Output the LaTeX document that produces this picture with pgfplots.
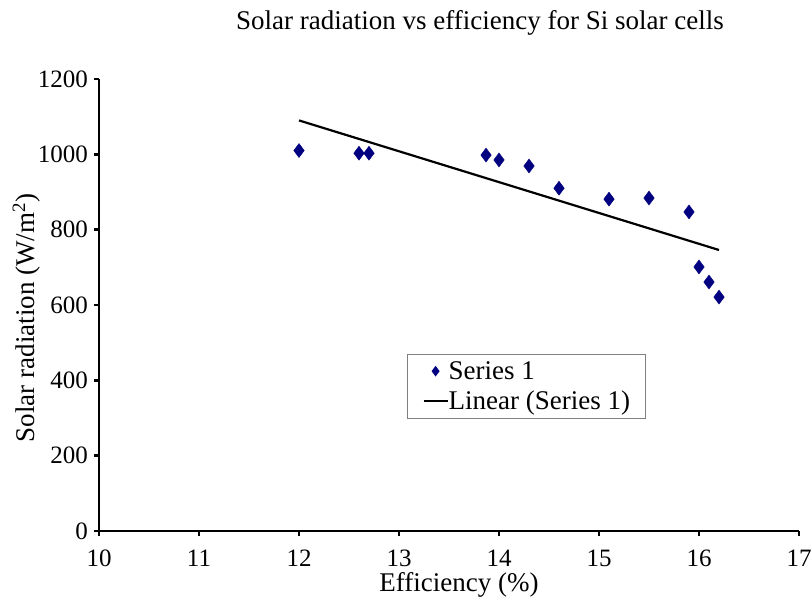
\documentclass[border=0pt]{standalone}
\usepackage{fontspec}
\setmainfont{Liberation Serif}
\usepackage{pgfplots}
\pgfplotsset{compat=1.18}
\definecolor{navy}{RGB}{0,0,128}
\newcommand{\tickf}{\fontsize{25bp}{30bp}\selectfont}
\newcommand{\legf}{\fontsize{27bp}{32bp}\selectfont}
\pgfplotsset{
  marklegend/.style={legend image code/.code={\path[draw=none] (0bp,0bp) -- (24bp,0bp); \draw[navy, fill=navy, mark=diamond*, mark size=4.5bp, only marks] plot coordinates {(12bp,0bp)};}},
  linelegend/.style={legend image code/.code={\draw[black, line width=2.2bp] (0bp,0bp) -- (24bp,0bp);}},
}
\begin{document}
\begin{tikzpicture}[x=1bp,y=1bp]
\path[use as bounding box] (0,0) rectangle (812,605);
\begin{axis}[
  at={(99bp,74bp)}, anchor=south west,
  scale only axis, width=700bp, height=452bp,
  xmin=10, xmax=17, ymin=0, ymax=1200,
  xtick={10,11,...,17}, ytick={0,200,...,1200},
  axis x line*=bottom, axis y line*=left,
  axis line style={line width=2.8bp,-},
  tick style={line width=2.8bp, black},
  tick align=outside, major tick length=5bp,
  /pgf/number format/assume math mode=true,
  /pgf/number format/1000 sep={},
  ticklabel style={font=\tickf},
  xticklabel style={anchor=north, inner sep=0pt, yshift=-14bp},
  yticklabel style={anchor=east, inner sep=0pt},
  yticklabel shift=6bp,
  legend cell align=left,
  legend style={at={(0.44,0.3916)}, anchor=north west, draw=gray, line width=1bp,
    font=\legf, inner xsep=15bp, inner ysep=6bp, row sep=8bp,
    nodes={inner xsep=0bp, inner ysep=1bp}},
  clip=false,
]
\addplot[only marks, mark=diamond*, mark size=7bp, color=navy, marklegend]
coordinates {
(12.0,1010) (12.6,1003) (12.7,1003) (13.87,998) (14.0,985) (14.3,969)
(14.6,910) (15.1,881) (15.5,884) (15.9,847) (16.0,701) (16.1,661) (16.2,621)
};
\addlegendentry{Series 1}
\addplot[black, line width=2.2bp, linelegend]
coordinates {(12,1090) (16.2,746)};
\addlegendentry{Linear (Series 1)}
\end{axis}
\node[anchor=base, font=\fontsize{27bp}{32bp}\selectfont] at (480,575) {Solar radiation vs efficiency for Si solar cells};
\node[anchor=base, font=\fontsize{27bp}{32bp}\selectfont] at (459,13) {Efficiency (\%)};
\node[rotate=90, anchor=base, font=\fontsize{27bp}{32bp}\selectfont] at (34,287) {Solar radiation (W/m\textsuperscript{2})};
\end{tikzpicture}
\end{document}
